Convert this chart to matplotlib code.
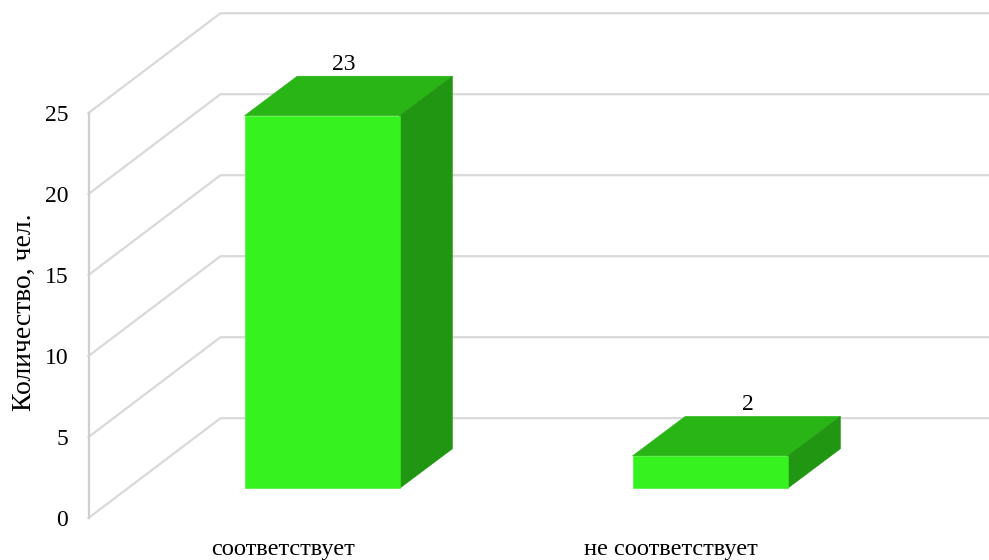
import matplotlib
matplotlib.use("Agg")
import matplotlib.pyplot as plt
from matplotlib.patches import Polygon
from matplotlib.transforms import Affine2D

plt.rcParams['font.family'] = ['Liberation Serif', 'DejaVu Serif']

categories = ["соответствует", "не соответствует"]
values = [23, 2]
y_ticks = [0, 5, 10, 15, 20, 25]
y_label = "Количество, чел."

W, H = 989, 560
FRONT_DX, FRONT_DY = 39.6, 29.7      # bar front face offset from front plane, px
DEPTH_DX, DEPTH_DY = 52.7, 39.5      # bar depth, px
WALL_DX, WALL_DY = 132.0, 99.8       # back wall offset, px
BAR_W = 0.4
LABEL_SHIFT = [-31, -15]             # data label x shift from bar back top centre, px
GRID = "#d9d9d9"
C_FRONT, C_TOP, C_SIDE = "#36f21f", "#29b516", "#219612"

fig = plt.figure(figsize=(W / 100, H / 100), dpi=100)
# Axes covers the front plane of the 3D box
left, right, top, bottom = 88.5, 864.5, 113.0, 518.0
ax = fig.add_axes([left / W, 1 - bottom / H, (right - left) / W, (bottom - top) / H])
ax.set_xlim(-0.5, 1.5)
ax.set_ylim(0, 25)
ax.patch.set_visible(False)
for s in ax.spines.values():
    s.set_visible(False)

base = ax.transData
wall = base + Affine2D().translate(WALL_DX, WALL_DY)
front = base + Affine2D().translate(FRONT_DX, FRONT_DY)
back = base + Affine2D().translate(FRONT_DX + DEPTH_DX, FRONT_DY + DEPTH_DY)

# gridlines: diagonal then along the back wall
for t in y_ticks:
    x0, y0 = base.transform((-0.5, t))
    x1, y1 = wall.transform((-0.5, t))
    x2, y2 = wall.transform((1.5, t))
    ax.plot([x0, x1, x2], [y0, y1, y2], transform=None, color=GRID, lw=1.6,
            clip_on=False, solid_joinstyle="miter", zorder=1)
ax.plot([-0.5, -0.5], [0, max(y_ticks)], color="#cfcfcf", lw=1.6, clip_on=False, zorder=1)

for i, v in enumerate(values):
    xl, xr = i - BAR_W / 2, i + BAR_W / 2
    f = [front.transform(p) for p in [(xl, 0), (xr, 0), (xr, v), (xl, v)]]
    b = [back.transform(p) for p in [(xl, 0), (xr, 0), (xr, v), (xl, v)]]
    for pts, c in [([f[3], f[2], b[2], b[3]], C_TOP),
                   ([f[1], b[1], b[2], f[2]], C_SIDE),
                   (f, C_FRONT)]:
        fig.add_artist(Polygon(pts, closed=True, transform=None, facecolor=c,
                               edgecolor=c, lw=0.4, zorder=3))
    tx, ty = back.transform((i, v))
    fig.text(tx + LABEL_SHIFT[i], ty + 1.5, str(v), transform=None, ha="center", va="bottom",
             fontsize=17, color="black", zorder=4)

ax.set_xticks(range(len(categories)), categories)
ax.set_yticks(y_ticks, [str(t) for t in y_ticks])
ax.tick_params(axis="both", length=0, colors="black")
ax.tick_params(axis="x", pad=15, labelsize=17.6)
ax.tick_params(axis="y", pad=14.5, labelsize=17)
fig.text(24.5 / W, 1 - 312.5 / H, y_label, rotation=90, ha="center", va="center", fontsize=19.9)

fig.savefig("out.png", dpi=100, facecolor="white")
